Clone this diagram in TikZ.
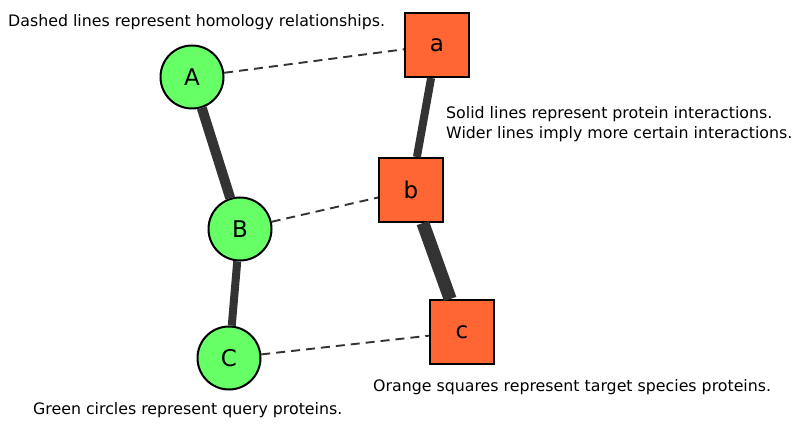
\documentclass[tikz,border=0pt]{standalone}
\usepackage{fontspec}
\setmainfont{DejaVu Sans}
\usetikzlibrary{positioning}
\definecolor{QueryGreen}{rgb}{0.4, 1.0, 0.4}
\definecolor{TargetOrange}{rgb}{1.0, 0.4, 0.2}
\definecolor{EdgeGray}{rgb}{0.2, 0.2, 0.2}

\begin{document}
\begin{tikzpicture}[x=1pt, y=-1pt,
    query/.style={circle, draw=black, line width=2pt, fill=QueryGreen,
        minimum size=63pt, inner sep=0pt, font=\fontsize{23}{27}\selectfont},
    target/.style={rectangle, draw=black, line width=2pt, fill=TargetOrange,
        minimum size=64pt, inner sep=0pt, font=\fontsize{23}{27}\selectfont},
    homology/.style={draw=EdgeGray, line width=1.9pt, dash pattern=on 9pt off 6pt},
    interaction/.style={draw=EdgeGray},
    caption/.style={font=\fontsize{15.8}{20}\selectfont, anchor=west, inner sep=0pt}]

\useasboundingbox (0,0) rectangle (800,430);

\node[query] (A) at (192,77) {A};
\node[query] (B) at (240,229) {B};
\node[query] (C) at (229,358) {C};

\node[target] (a) at (437,45) {a};
\node[target] (b) at (411,190) {b};
\node[target] (c) at (462,332) {c};

% interactions
\draw[interaction, line width=10pt] (A) -- (B);
\draw[interaction, line width=8pt] (B) -- (C);
\draw[interaction, line width=8pt] (a) -- (b);
\draw[interaction, line width=13pt] (b) -- (c);

% homology
\draw[homology] (A) -- (a);
\draw[homology] (B) -- (b);
\draw[homology] (C) -- (c);

\node[caption] (note1) at (8,22) {Dashed lines represent homology relationships.};
\node[caption, align=left] (note2) at (446,124)
    {Solid lines represent protein interactions.\\Wider lines imply more certain interactions.};
\node[caption] (note3) at (373,387) {Orange squares represent target species proteins.};
\node[caption] (note4) at (33,410) {Green circles represent query proteins.};

\end{tikzpicture}
\end{document}
